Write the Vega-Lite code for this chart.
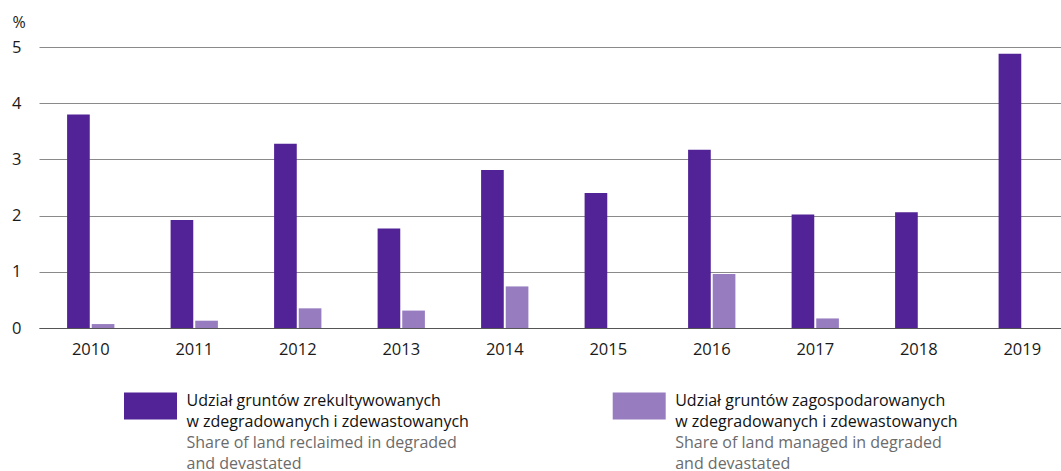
{
  "$schema": "https://vega.github.io/schema/vega-lite/v6.json",
  "autosize": {"type": "none"},
  "width": 1022,
  "height": 281,
  "padding": {"left": 39, "top": 47, "right": 0, "bottom": 143},
  "background": "white",
  "config": {"view": {"stroke": null}, "font": "Open Sans"},
  "layer": [
    {
      "data": {"values": [
        {"year": "2010", "series": "Udział gruntów zrekultywowanych", "value": 3.8},
        {"year": "2010", "series": "Udział gruntów zagospodarowanych", "value": 0.07},
        {"year": "2011", "series": "Udział gruntów zrekultywowanych", "value": 1.92},
        {"year": "2011", "series": "Udział gruntów zagospodarowanych", "value": 0.13},
        {"year": "2012", "series": "Udział gruntów zrekultywowanych", "value": 3.28},
        {"year": "2012", "series": "Udział gruntów zagospodarowanych", "value": 0.35},
        {"year": "2013", "series": "Udział gruntów zrekultywowanych", "value": 1.77},
        {"year": "2013", "series": "Udział gruntów zagospodarowanych", "value": 0.31},
        {"year": "2014", "series": "Udział gruntów zrekultywowanych", "value": 2.81},
        {"year": "2014", "series": "Udział gruntów zagospodarowanych", "value": 0.74},
        {"year": "2015", "series": "Udział gruntów zrekultywowanych", "value": 2.4},
        {"year": "2016", "series": "Udział gruntów zrekultywowanych", "value": 3.17},
        {"year": "2016", "series": "Udział gruntów zagospodarowanych", "value": 0.96},
        {"year": "2017", "series": "Udział gruntów zrekultywowanych", "value": 2.02},
        {"year": "2017", "series": "Udział gruntów zagospodarowanych", "value": 0.17},
        {"year": "2018", "series": "Udział gruntów zrekultywowanych", "value": 2.06},
        {"year": "2019", "series": "Udział gruntów zrekultywowanych", "value": 4.88}
      ]},
      "mark": {"type": "bar"},
      "encoding": {
        "x": {
          "field": "year", "type": "nominal",
          "scale": {"range": [0, 1035], "paddingInner": 0.543, "paddingOuter": 0.2715},
          "axis": {
            "title": null, "labelAngle": 0, "labelFontSize": 16.5, "labelColor": "#1a1a1a",
            "labelPadding": 13, "ticks": false, "tickSize": 0,
            "domain": true, "domainColor": "#555555", "domainWidth": 1.2
          }
        },
        "xOffset": {
          "field": "series", "type": "nominal",
          "sort": ["Udział gruntów zrekultywowanych", "Udział gruntów zagospodarowanych"],
          "scale": {"paddingInner": 0.08, "paddingOuter": 0}
        },
        "y": {
          "field": "value", "type": "quantitative",
          "scale": {"domain": [0, 5], "nice": false},
          "axis": {
            "values": [0, 1, 2, 3, 4, 5], "grid": true, "gridColor": "#8a8a8a", "gridWidth": 1,
            "domain": false, "ticks": false, "labelPadding": 18, "labelFontSize": 16.5,
            "labelColor": "#1a1a1a",
            "title": "%", "titleAngle": 0, "titleAlign": "left", "titleBaseline": "alphabetic",
            "titleX": -27, "titleY": -20, "titleFontSize": 16, "titleFontWeight": "normal", "titleColor": "#1a1a1a"
          }
        },
        "color": {
          "field": "series", "type": "nominal",
          "scale": {
            "domain": ["Udział gruntów zrekultywowanych", "Udział gruntów zagospodarowanych"],
            "range": ["#522396", "#977dc0"]
          },
          "legend": null
        }
      }
    },
    {
      "data": {"values": [
        {"series": "Udział gruntów zrekultywowanych", "line": 1, "lang": "pl", "text": "Udział gruntów zrekultywowanych"},
        {"series": "Udział gruntów zrekultywowanych", "line": 2, "lang": "pl", "text": "w zdegradowanych i zdewastowanych"},
        {"series": "Udział gruntów zrekultywowanych", "line": 3, "lang": "en", "text": "Share of land reclaimed in degraded"},
        {"series": "Udział gruntów zrekultywowanych", "line": 4, "lang": "en", "text": "and devastated"},
        {"series": "Udział gruntów zagospodarowanych", "line": 1, "lang": "pl", "text": "Udział gruntów zagospodarowanych"},
        {"series": "Udział gruntów zagospodarowanych", "line": 2, "lang": "pl", "text": "w zdegradowanych i zdewastowanych"},
        {"series": "Udział gruntów zagospodarowanych", "line": 3, "lang": "en", "text": "Share of land managed in degraded"},
        {"series": "Udział gruntów zagospodarowanych", "line": 4, "lang": "en", "text": "and devastated"}
      ]},
      "encoding": {
        "x": {
          "field": "series", "type": "nominal",
          "sort": ["Udział gruntów zrekultywowanych", "Udział gruntów zagospodarowanych"],
          "scale": {"type": "point", "range": [111.5, 600.2], "padding": 0},
          "axis": null
        },
        "y": {
          "field": "line", "type": "quantitative",
          "scale": {"domain": [1, 4], "range": [359, 422], "nice": false, "zero": false},
          "axis": null
        }
      },
      "layer": [
        {
          "transform": [{"filter": "datum.line == 1"}],
          "mark": {
            "type": "point", "filled": true, "opacity": 1, "size": 2809,
            "shape": "M-1,-0.509L1,-0.509L1,0.509L-1,0.509Z"
          },
          "encoding": {
            "color": {"field": "series", "type": "nominal", "legend": null}
          }
        },
        {
          "mark": {"type": "text", "align": "left", "baseline": "alphabetic", "dx": 36, "fontSize": 16},
          "encoding": {
            "text": {"field": "text"},
            "color": {"condition": {"test": "datum.lang == 'en'", "value": "#6b6b6b"}, "value": "#111111"}
          }
        }
      ]
    }
  ],
  "resolve": {"scale": {"x": "independent", "y": "independent"}}
}
